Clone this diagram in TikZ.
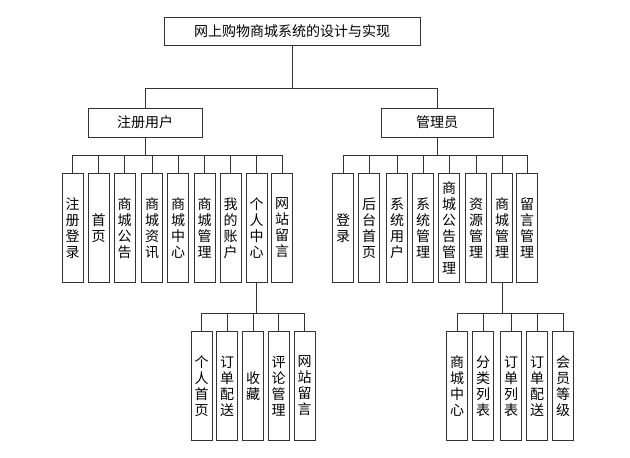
\documentclass[tikz,border=0pt]{standalone}
\usepackage{fontspec}
\usepackage{tikz}
\newfontfamily\cjk{Noto Sans CJK SC}

\begin{document}
\begin{tikzpicture}[x=1pt,y=-1pt,
    box/.style={draw=black!80,line width=1pt,inner sep=0pt,font=\cjk\fontsize{14}{16}\selectfont},
    leaf/.style={box,minimum width=21pt,minimum height=109pt,align=center},
    link/.style={draw=black!80,line width=1pt}]
    \useasboundingbox (0,0) rectangle (630,458);
    % top levels
    \node[box,minimum width=256pt,minimum height=28pt] (root) at (292,31.5) {网上购物商城系统的设计与实现};
    \node[box,minimum width=114pt,minimum height=29pt] (user) at (145,122.5) {注册用户};
    \node[box,minimum width=112pt,minimum height=29pt] (admin) at (437,122.5) {管理员};
    \foreach \c in {user,admin}
        \draw[link] (root.south) -- ++(0,42) -| (\c.north);
    % user side
    \foreach \i/\x/\lbl in {1/72.5/{注\\册\\登\\录},2/98.5/{首\\页},3/124.5/{商\\城\\公\\告},
        4/152/{商\\城\\资\\讯},5/178/{商\\城\\中\\心},6/204.5/{商\\城\\管\\理},
        7/230.5/{我\\的\\账\\户},8/256.5/{个\\人\\中\\心},9/282/{网\\站\\留\\言}}
    {
        \node[leaf] (u\i) at (\x,228) {\lbl};
        \draw[link] (user.south) -- ++(0,18) -| (u\i.north);
    }
    \foreach \i/\x/\lbl in {1/201.5/{个\\人\\首\\页},2/227/{订\\单\\配\\送},3/253/{收\\藏},
        4/278.5/{评\\论\\管\\理},5/304.5/{网\\站\\留\\言}}
    {
        \node[leaf] (p\i) at (\x,386) {\lbl};
        \draw[link] (u8.south) -- ++(0,30) -| (p\i.north);
    }
    % admin side
    \foreach \i/\x/\lbl in {1/343/{登\\录},2/369/{后\\台\\首\\页},3/397/{系\\统\\用\\户},
        4/423/{系\\统\\管\\理},5/449/{商\\城\\公\\告\\管\\理},6/476/{资\\源\\管\\理},
        7/502/{商\\城\\管\\理},8/527/{留\\言\\管\\理}}
    {
        \node[leaf] (a\i) at (\x,228) {\lbl};
        \draw[link] (admin.south) -- ++(0,17.5) -| (a\i.north);
    }
    \foreach \i/\x/\lbl in {1/457/{商\\城\\中\\心},2/483/{分\\类\\列\\表},3/511/{订\\单\\列\\表},
        4/537/{订\\单\\配\\送},5/563/{会\\员\\等\\级}}
    {
        \node[leaf] (m\i) at (\x,386) {\lbl};
        \draw[link] (a7.south) -- ++(0,30) -| (m\i.north);
    }
\end{tikzpicture}
\end{document}
